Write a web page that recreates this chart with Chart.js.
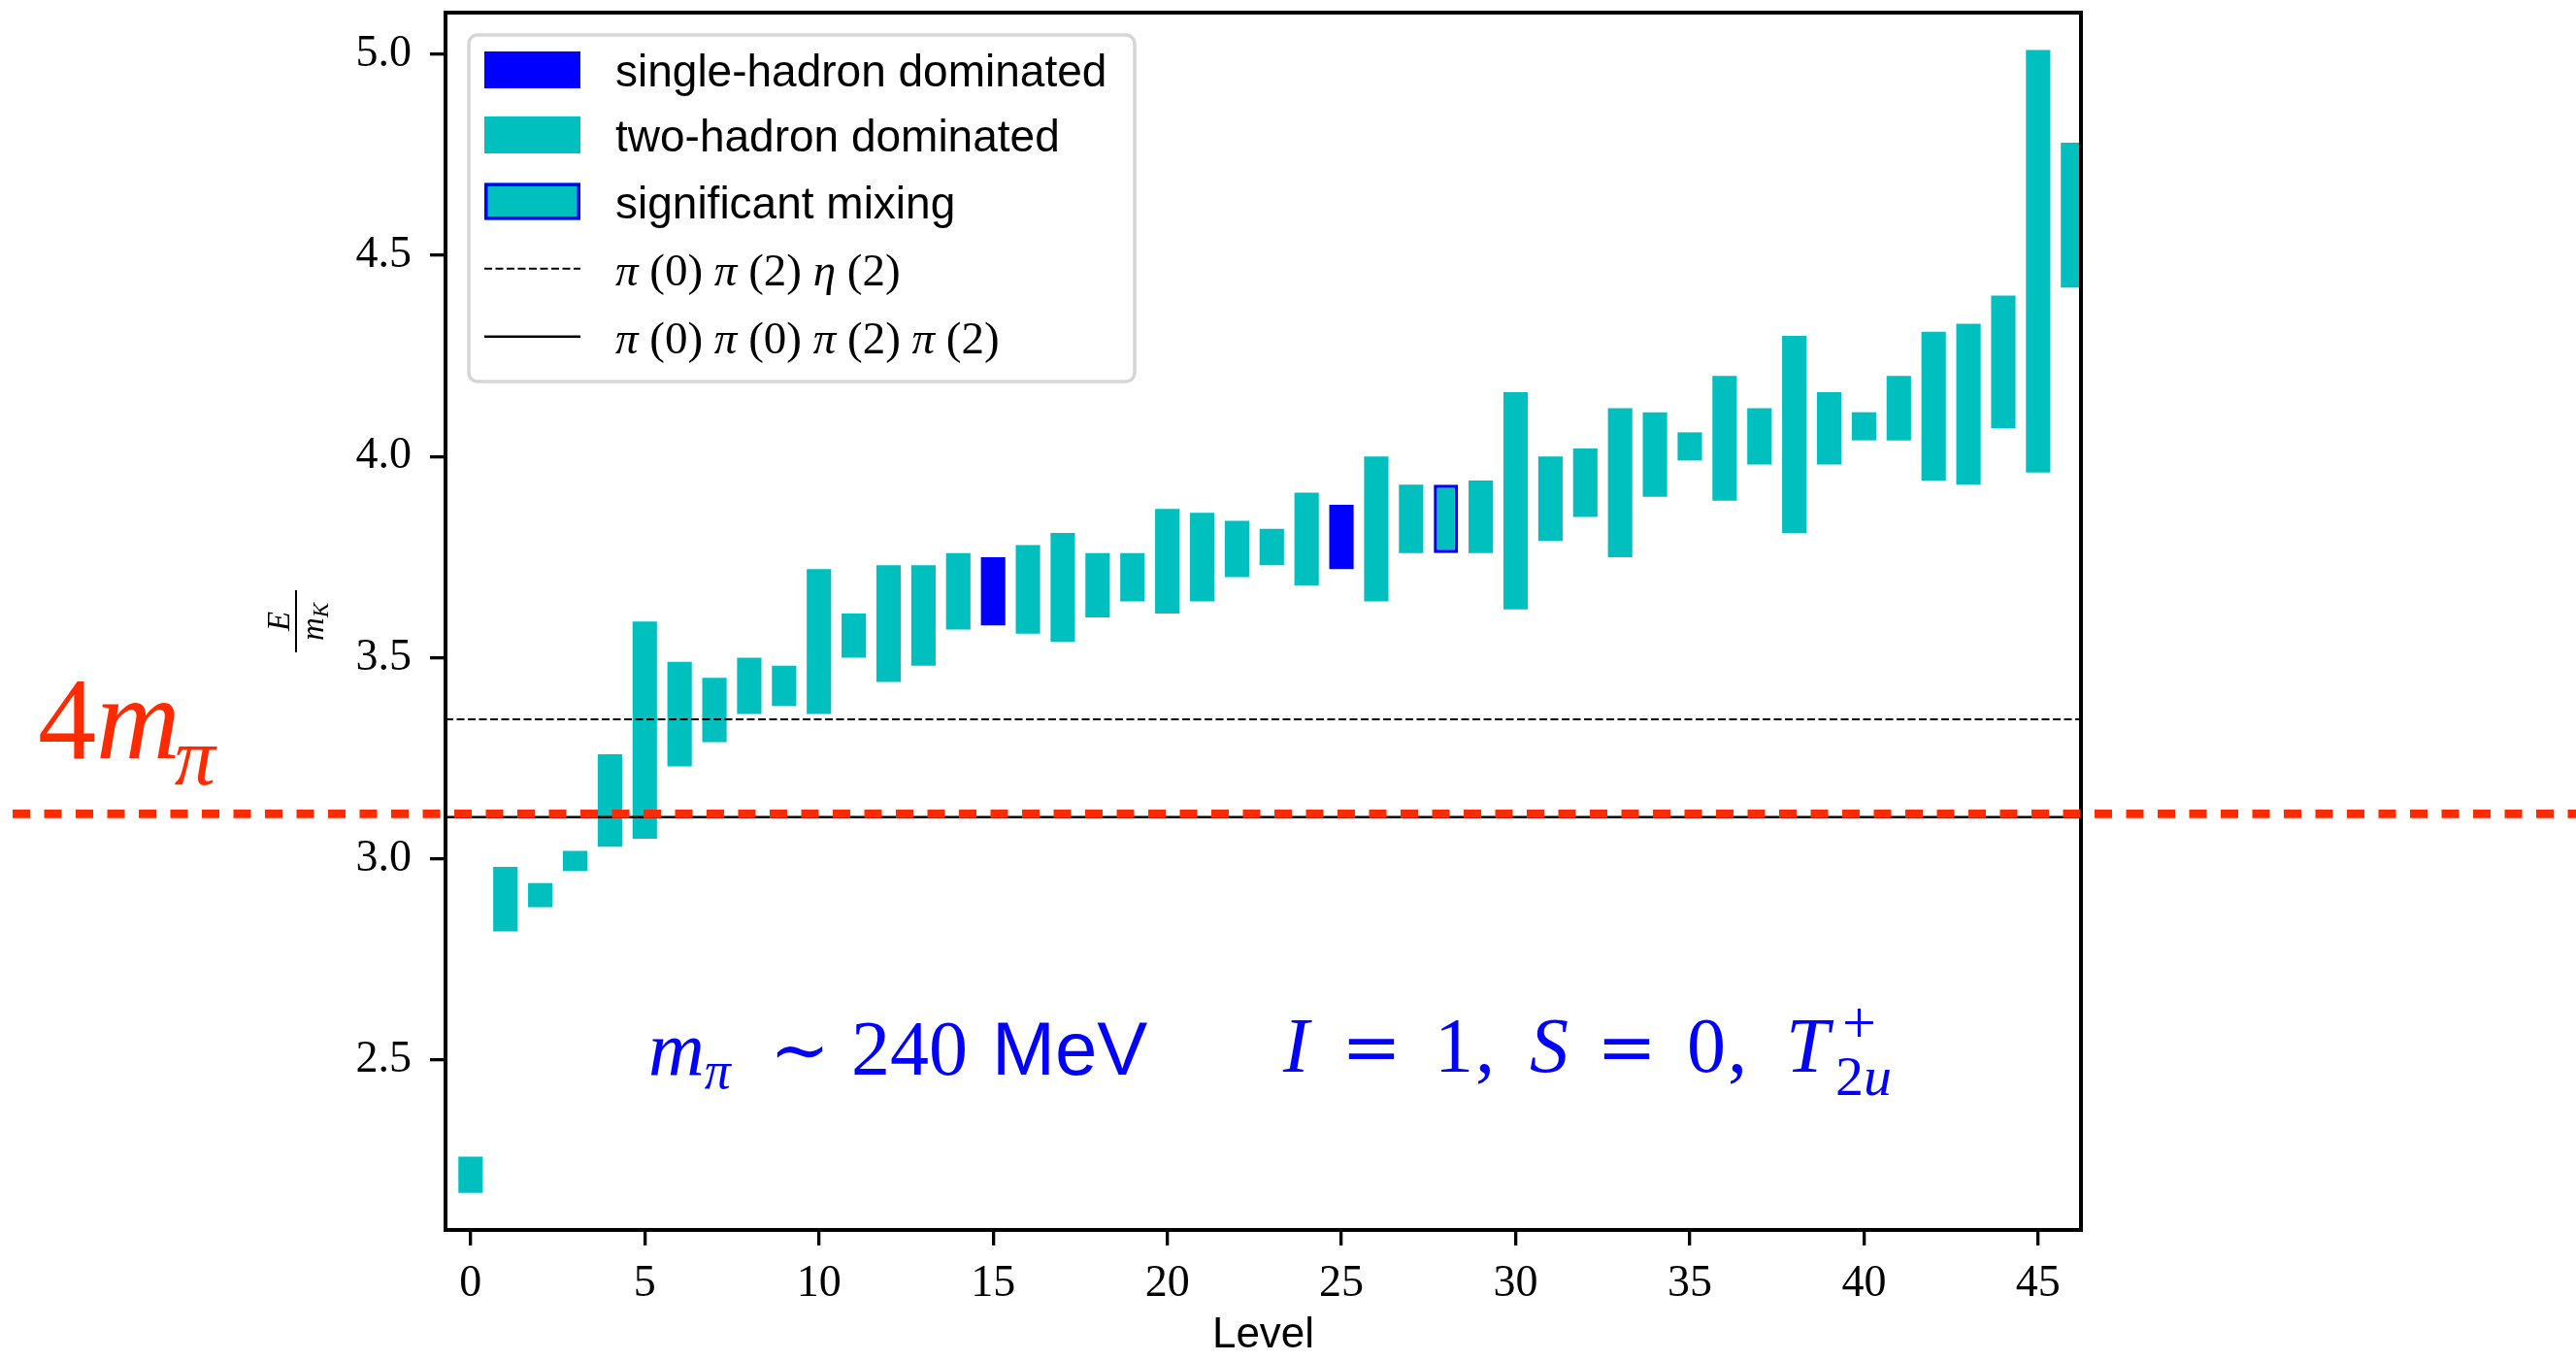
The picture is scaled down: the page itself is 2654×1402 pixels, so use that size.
<!DOCTYPE html>
<html>
<head>
<meta charset="utf-8">
<script src="https://cdn.jsdelivr.net/npm/chart.js@4.4.0/dist/chart.umd.min.js"></script>
<style>
html, body { margin: 0; padding: 0; background: #fff; }
canvas { display: block; }
</style>
</head>
<body>
<canvas id="levels" width="2654" height="1402"></canvas>
<script>
// energy levels, E/m_K: low and high end of every box
var levels = [0, 1, 2, 3, 4, 5, 6, 7, 8, 9, 10, 11, 12, 13, 14, 15, 16, 17, 18, 19, 20, 21, 22,
              23, 24, 25, 26, 27, 28, 29, 30, 31, 32, 33, 34, 35, 36, 37, 38, 39, 40, 41, 42, 43, 44, 45, 46];
var lowE = [2.17, 2.82, 2.88, 2.97, 3.03, 3.05, 3.23, 3.29, 3.36, 3.38,
            3.36, 3.50, 3.44, 3.48, 3.57, 3.58, 3.56, 3.54, 3.60, 3.64,
            3.61, 3.64, 3.70, 3.73, 3.68, 3.72, 3.64, 3.76, 3.76, 3.76,
            3.62, 3.79, 3.85, 3.75, 3.90, 3.99, 3.89, 3.98, 3.81, 3.98,
            4.04, 4.04, 3.94, 3.93, 4.07, 3.96, 4.42];
var highE = [2.26, 2.98, 2.94, 3.02, 3.26, 3.59, 3.49, 3.45, 3.50, 3.48,
             3.72, 3.61, 3.73, 3.73, 3.76, 3.75, 3.78, 3.81, 3.76, 3.76,
             3.87, 3.86, 3.84, 3.82, 3.91, 3.88, 4.00, 3.93, 3.93, 3.94,
             4.16, 4.00, 4.02, 4.12, 4.11, 4.06, 4.20, 4.12, 4.30, 4.16,
             4.11, 4.20, 4.31, 4.33, 4.40, 5.01, 4.78];
// s = single-hadron dominated, t = two-hadron dominated, m = significant mixing
var kinds = ['t','t','t','t','t','t','t','t','t','t',
             't','t','t','t','t','s','t','t','t','t',
             't','t','t','t','t','s','t','t','m','t',
             't','t','t','t','t','t','t','t','t','t',
             't','t','t','t','t','t','t'];
var xTicks = [0, 5, 10, 15, 20, 25, 30, 35, 40, 45];
var yTicks = [2.5, 3.0, 3.5, 4.0, 4.5, 5.0];
var thrPiPiEta = 3.347;   // pi(0) pi(2) eta(2)
var thrFourPi = 3.104;    // pi(0) pi(0) pi(2) pi(2)
var fourMpi = 3.112;      // red 4 m_pi line

var xMin = -0.72, xMax = 46.23, yMin = 2.078, yMax = 5.103;

var CYAN = '#00bfbf', BLUE = '#0000ff', RED = '#ff2a00';
var SERIF = '"Liberation Serif", "DejaVu Serif", serif';
var SANS = '"Liberation Sans", Arial, sans-serif';

function pick(kind) {
	var out = [];
	for (var i = 0; i < levels.length; i++) {
		if (kinds[i] === kind) out.push({x: levels[i], y: [lowE[i], highE[i]]});
	}
	return out;
}

// draw a run of text pieces, each [text, font, dy]
function runs(ctx, x, y, parts) {
	for (var i = 0; i < parts.length; i++) {
		ctx.font = parts[i][1];
		ctx.fillText(parts[i][0], x, y + (parts[i][2] || 0));
		x += ctx.measureText(parts[i][0]).width;
	}
	return x;
}

var decor = {
	id: 'decor',
	afterDatasetsDraw: function(chart) {
		var ctx = chart.ctx, a = chart.chartArea;
		ctx.save();
		// frame
		ctx.strokeStyle = '#000';
		ctx.lineWidth = 4;
		ctx.strokeRect(a.left, a.top, a.right - a.left, a.bottom - a.top);

		// legend
		ctx.beginPath();
		ctx.roundRect(483, 36, 686, 357, 9);
		ctx.fillStyle = 'rgba(255,255,255,0.8)';
		ctx.fill();
		ctx.strokeStyle = '#d6d6d6';
		ctx.lineWidth = 3.5;
		ctx.stroke();

		var rows = [72, 139, 207.5, 276.7, 346.7];
		ctx.fillStyle = BLUE;
		ctx.fillRect(499, rows[0] - 19, 99, 38);
		ctx.fillStyle = CYAN;
		ctx.fillRect(499, rows[1] - 19, 99, 38);
		ctx.fillRect(499, rows[2] - 19, 99, 38);
		ctx.strokeStyle = BLUE;
		ctx.lineWidth = 3.5;
		ctx.strokeRect(500.75, rows[2] - 17.25, 95.5, 34.5);
		ctx.strokeStyle = '#000';
		ctx.lineWidth = 2;
		ctx.setLineDash([8, 3.5]);
		ctx.beginPath(); ctx.moveTo(499, rows[3]); ctx.lineTo(598, rows[3]); ctx.stroke();
		ctx.setLineDash([]);
		ctx.lineWidth = 2.5;
		ctx.beginPath(); ctx.moveTo(499, rows[4]); ctx.lineTo(598, rows[4]); ctx.stroke();

		ctx.fillStyle = '#000';
		ctx.textBaseline = 'alphabetic';
		ctx.textAlign = 'left';
		ctx.font = '46px ' + SANS;
		ctx.fillText('single-hadron dominated', 634, rows[0] + 17);
		ctx.fillText('two-hadron dominated', 634, rows[1] + 17);
		ctx.fillText('significant mixing', 634, rows[2] + 17);
		var it = 'italic 47px ' + SERIF, up = '47px ' + SERIF;
		runs(ctx, 634, rows[3] + 17, [['π', it], [' (0) ', up], ['π', it], [' (2) ', up], ['η', it], [' (2)', up]]);
		runs(ctx, 634, rows[4] + 17, [['π', it], [' (0) ', up], ['π', it], [' (0) ', up], ['π', it], [' (2) ', up], ['π', it], [' (2)', up]]);

		// blue annotations
		ctx.fillStyle = BLUE;
		var bi = 'italic 80px ' + SERIF, bu = '80px ' + SERIF;
		runs(ctx, 668, 1107, [['m', bi], ['π', 'italic 54px ' + SERIF, 14]]);
		ctx.font = '74px "DejaVu Serif", serif';
		ctx.fillText('∼', 793, 1107);
		ctx.font = bu;
		ctx.fillText('240', 877, 1107);
		ctx.font = '78px ' + SANS;
		ctx.fillText('MeV', 1022, 1107);

		ctx.font = bi; ctx.fillText('I', 1322, 1104);
		ctx.font = '74px "DejaVu Serif", serif'; ctx.fillText('=', 1382, 1104);
		ctx.font = bu; ctx.fillText('1', 1478, 1104);
		ctx.fillText(',', 1520, 1104);
		ctx.font = bi; ctx.fillText('S', 1576, 1104);
		ctx.font = '74px "DejaVu Serif", serif'; ctx.fillText('=', 1645, 1104);
		ctx.font = bu; ctx.fillText('0', 1738, 1104);
		ctx.fillText(',', 1780, 1104);
		ctx.font = bi; ctx.fillText('T', 1840, 1104);
		ctx.font = '62px ' + SERIF; ctx.fillText('+', 1898, 1074);
		runs(ctx, 1891, 1128, [['2', '58px ' + SERIF], ['u', 'italic 58px ' + SERIF]]);

		// y axis title E / m_K
		ctx.fillStyle = '#000';
		ctx.translate(305, 640);
		ctx.rotate(-Math.PI / 2);
		ctx.lineWidth = 2;
		ctx.beginPath(); ctx.moveTo(-32, 0); ctx.lineTo(32, 0); ctx.stroke();
		ctx.textAlign = 'center';
		ctx.font = 'italic 33px ' + SERIF;
		ctx.fillText('E', 0, -7);
		ctx.textAlign = 'left';
		runs(ctx, -20, 28, [['m', 'italic 33px ' + SERIF], ['K', 'italic 23px ' + SERIF, 5]]);
		ctx.restore();
	},
	afterDraw: function(chart) {
		var ctx = chart.ctx;
		var y = chart.scales.y.getPixelForValue(fourMpi);
		ctx.save();
		ctx.strokeStyle = RED;
		ctx.lineWidth = 8.7;
		ctx.setLineDash([18, 14.5]);
		ctx.beginPath(); ctx.moveTo(13, y); ctx.lineTo(2654, y); ctx.stroke();
		ctx.setLineDash([]);
		ctx.fillStyle = RED;
		ctx.textBaseline = 'alphabetic';
		var end = runs(ctx, 39, 781, [['4', '120px ' + SERIF], ['m', 'italic 120px ' + SERIF]]);
		ctx.font = 'italic 84px ' + SERIF;
		ctx.fillText('π', end - 6, 808);
		ctx.restore();
	}
};

var ctx = document.getElementById('levels').getContext('2d');
var chart = new Chart(ctx, {
	type: 'bar',
	data: {
		datasets: [{
			type: 'line',
			label: 'π (0) π (2) η (2)',
			data: [{x: xMin, y: thrPiPiEta}, {x: xMax, y: thrPiPiEta}],
			borderColor: '#000',
			borderWidth: 2,
			borderDash: [8, 3.5],
			pointRadius: 0,
			fill: false,
			order: 0
		}, {
			type: 'line',
			label: 'π (0) π (0) π (2) π (2)',
			data: [{x: xMin, y: thrFourPi}, {x: xMax, y: thrFourPi}],
			borderColor: '#000',
			borderWidth: 2.5,
			pointRadius: 0,
			fill: false,
			order: 0
		}, {
			label: 'single-hadron dominated',
			data: pick('s'),
			backgroundColor: BLUE,
			order: 1
		}, {
			label: 'two-hadron dominated',
			data: pick('t'),
			backgroundColor: CYAN,
			order: 1
		}, {
			label: 'significant mixing',
			data: pick('m'),
			backgroundColor: CYAN,
			borderColor: BLUE,
			borderWidth: 3.5,
			borderSkipped: false,
			order: 1
		}]
	},
	options: {
		responsive: false,
		animation: false,
		devicePixelRatio: 1,
		layout: {padding: {left: 0, right: 510, top: 13, bottom: 0}},
		datasets: {bar: {grouped: false, categoryPercentage: 1, barPercentage: 0.7}},
		plugins: {legend: {display: false}, tooltip: {enabled: false}},
		scales: {
			x: {
				type: 'linear',
				min: xMin,
				max: xMax,
				offset: false,
				afterFit: function(s) { s.height = 135; s.paddingLeft = 0; s.paddingRight = 0; },
				afterBuildTicks: function(s) { s.ticks = xTicks.map(function(v) { return {value: v}; }); },
				grid: {offset: false, drawOnChartArea: false, drawTicks: true, tickLength: 16, lineWidth: 3.3, tickWidth: 3.3, color: '#000', tickColor: '#000'},
				border: {display: false},
				ticks: {font: {family: SERIF, size: 46}, color: '#000', padding: 12, maxRotation: 0, autoSkip: false},
				title: {display: true, text: 'Level', font: {family: SANS, size: 44}, color: '#000', padding: {top: 0, bottom: 0}}
			},
			y: {
				min: yMin,
				max: yMax,
				afterFit: function(s) { s.width = 459; s.paddingTop = 0; s.paddingBottom = 0; },
				afterBuildTicks: function(s) { s.ticks = yTicks.map(function(v) { return {value: v}; }); },
				grid: {drawOnChartArea: false, drawTicks: true, tickLength: 16, lineWidth: 3.3, tickWidth: 3.3, color: '#000', tickColor: '#000'},
				border: {display: false},
				ticks: {font: {family: SERIF, size: 46}, color: '#000', padding: 19, callback: function(v) { return Number(v).toFixed(1); }}
			}
		}
	},
	plugins: [decor]
});
</script>
</body>
</html>
